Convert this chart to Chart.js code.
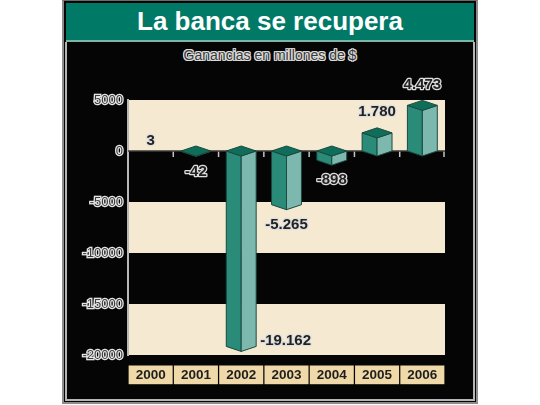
<!DOCTYPE html>
<html><head><meta charset="utf-8">
<script src="https://cdn.jsdelivr.net/npm/chart.js@4/dist/chart.umd.min.js"></script>
<style>
html,body{margin:0;padding:0;background:#fff;width:540px;height:405px;overflow:hidden;}
#outer{position:absolute;left:62px;top:0;width:416px;height:404px;box-sizing:border-box;background:#050505;border:2px solid #8c8c8c;border-top:1px solid #6a6a6a;}
#title{position:absolute;left:66px;top:3px;width:408px;height:37px;background:#007a66;color:#fff;font:bold 26px "Liberation Sans",Arial,sans-serif;text-align:center;line-height:36px;}
#sep{position:absolute;left:66px;top:40px;width:408px;height:2px;background:#7fb3a8;}
#inner{position:absolute;left:65px;top:42px;width:410px;height:359px;box-sizing:border-box;border:2px solid #b5b5b5;border-top:none;}
#sub{position:absolute;left:66px;width:408px;top:47px;text-align:center;font:14px "Liberation Sans",Arial,sans-serif;color:#3a3a3a;
 text-shadow:1px 0 #ddd,-1px 0 #ddd,0 1px #ddd,0 -1px #ddd,1px 1px #ddd,-1px -1px #ddd,1px -1px #ddd,-1px 1px #ddd;}
canvas{position:absolute;left:0;top:0;}
</style></head>
<body>
<div id="outer"></div>
<div id="title">La banca se recupera</div>
<div id="sep"></div>
<div id="inner"></div>
<div id="sub">Ganancias en millones de $</div>
<canvas id="c" width="540" height="405"></canvas>
<script>
const years = ['2000','2001','2002','2003','2004','2005','2006'];
const ganancias = [3, -42, -19162, -5265, -898, 1780, 4473];
const yMin = -20000;
const yMax = 5000;
const yStep = 5000;

const FONT = '"Liberation Sans", Arial, sans-serif';
const BAND = '#f5e9d2';
const DEPTH = 5;

function fmt(v){
  const s = Math.abs(v).toString().replace(/\B(?=(\d{3})+(?!\d))/g, '.');
  return (v < 0 ? '-' : '') + s;
}

const bandPlugin = {
  id: 'bands',
  beforeDraw(chart){
    const {ctx, chartArea: a, scales: {y}} = chart;
    const t = y.ticks;
    ctx.save();
    ctx.fillStyle = BAND;
    for (let i = 0; i < t.length - 1; i += 2){
      const y1 = y.getPixelForValue(t[i].value), y2 = y.getPixelForValue(t[i+1].value);
      ctx.fillRect(a.left, Math.min(y1,y2), a.right - a.left, Math.abs(y2 - y1));
    }
    ctx.restore();
  },
  beforeDatasetsDraw(chart){
    const {ctx, chartArea: a, scales: {x, y}} = chart;
    const y0 = y.getPixelForValue(0);
    ctx.save();
    ctx.strokeStyle = '#c4c4c4';
    ctx.lineWidth = 1.5;
    const n = x.ticks.length;
    for (let i = 0; i < n; i++){
      const xb = i < n - 1 ? (x.getPixelForTick(i) + x.getPixelForTick(i+1)) / 2 : a.right - 1;
      ctx.beginPath(); ctx.moveTo(xb, y0); ctx.lineTo(xb, y0 + 6); ctx.stroke();
    }
    ctx.strokeStyle = '#3a3a3a';
    ctx.lineWidth = 1.5;
    ctx.beginPath(); ctx.moveTo(a.left, y0); ctx.lineTo(a.right, y0); ctx.stroke();
    ctx.restore();
  }
};

const bars3d = {
  id: 'bars3d',
  afterDatasetsDraw(chart){
    const {ctx, chartArea: a} = chart;
    const meta = chart.getDatasetMeta(0);
    ctx.save();
    ctx.lineJoin = 'round';
    meta.data.forEach((bar, i) => {
      const v = chart.data.datasets[0].data[i];
      const p = bar.getProps(['x','y','base','width'], true);
      const h = p.width / 2, d = DEPTH, x = p.x;
      const top = Math.min(p.y, p.base), bot = Math.max(p.y, p.base);
      const drawn = (bot - top) > 0.25;
      if (drawn){
        ctx.strokeStyle = '#1b4a40';
        ctx.lineWidth = 1;
        ctx.beginPath();
        ctx.moveTo(x - h, top); ctx.lineTo(x, top + d); ctx.lineTo(x, bot + d); ctx.lineTo(x - h, bot); ctx.closePath();
        ctx.fillStyle = '#2b8b79'; ctx.fill(); ctx.stroke();
        ctx.beginPath();
        ctx.moveTo(x, top + d); ctx.lineTo(x + h, top); ctx.lineTo(x + h, bot); ctx.lineTo(x, bot + d); ctx.closePath();
        ctx.fillStyle = '#7db8ae'; ctx.fill(); ctx.stroke();
        ctx.beginPath();
        ctx.moveTo(x - h, top); ctx.lineTo(x, top - d); ctx.lineTo(x + h, top); ctx.lineTo(x, top + d); ctx.closePath();
        ctx.fillStyle = '#0f6e5a'; ctx.fill(); ctx.stroke();
      }
      let lx = x, ly, align = 'center';
      if (v >= 0){
        ly = drawn ? top - d - 16 : top - 10;
      } else {
        ly = bot + d + 15;
        if (ly + 8 > a.bottom){ lx = x + h + 4; ly = bot - 6; align = 'left'; }
      }
      ctx.font = 'bold 15px ' + FONT;
      ctx.textAlign = align; ctx.textBaseline = 'middle';
      ctx.lineWidth = 2.5; ctx.strokeStyle = '#dedede';
      ctx.strokeText(fmt(v), lx, ly);
      ctx.fillStyle = '#222';
      ctx.fillText(fmt(v), lx, ly);
    });
    ctx.restore();
  }
};

new Chart(document.getElementById('c'), {
  type: 'bar',
  data: {
    labels: years,
    datasets: [{
      data: ganancias,
      backgroundColor: 'rgba(0,0,0,0)',
      borderWidth: 0,
      categoryPercentage: 1,
      barPercentage: 0.66
    }]
  },
  options: {
    responsive: false,
    animation: false,
    devicePixelRatio: 1,
    layout: {padding: {left: 0, right: 95, top: 100, bottom: 0}},
    plugins: {legend: {display: false}, tooltip: {enabled: false}},
    scales: {
      x: {
        grid: {display: false, drawTicks: false},
        border: {display: false},
        ticks: {
          color: '#1e1e1e', font: {family: FONT, size: 13.5, weight: 'bold'},
          padding: 12, maxRotation: 0, autoSkip: false,
          showLabelBackdrop: true, backdropColor: '#f0d9a8',
          backdropPadding: {top: 1.5, bottom: 1, left: 7, right: 7}
        },
        afterFit(s){ s.height = 50; }
      },
      y: {
        min: yMin, max: yMax,
        grid: {display: false, drawTicks: false},
        border: {display: true, color: '#b8b8b8', width: 2},
        ticks: {
          stepSize: yStep, color: '#3c3c3c', padding: 5,
          textStrokeColor: '#e6e6e6', textStrokeWidth: 2.5,
          font: {family: FONT, size: 13},
          callback: v => String(v)
        },
        afterFit(s){ s.width = 128; }
      }
    }
  },
  plugins: [bandPlugin, bars3d]
});
</script>
</body></html>
